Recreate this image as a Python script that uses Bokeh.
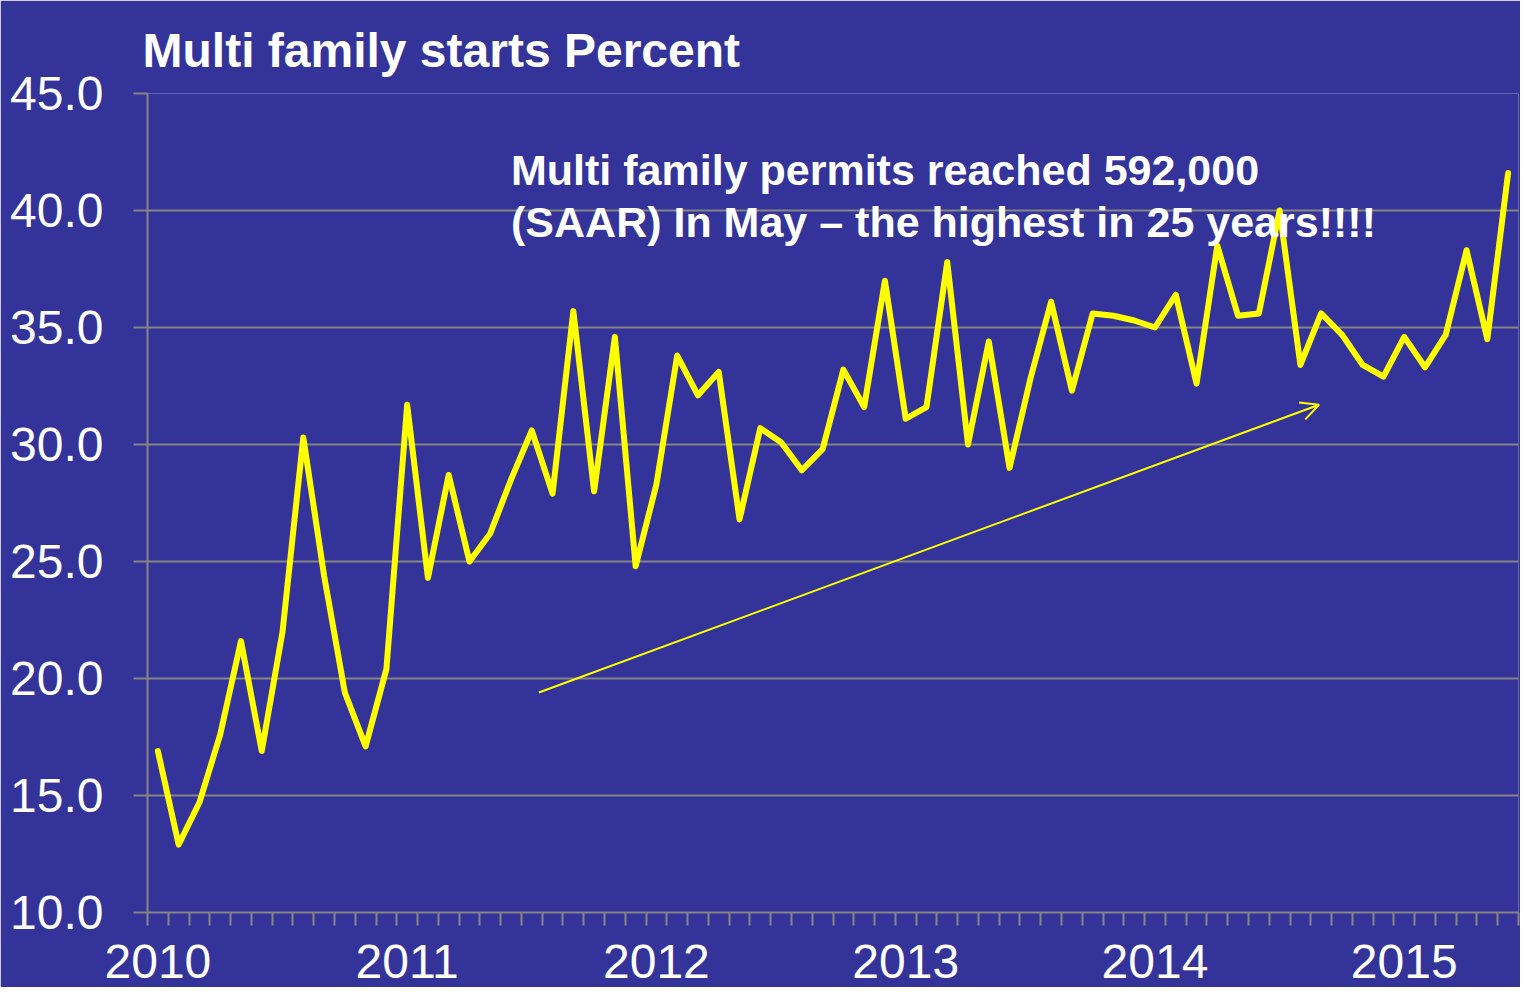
from bokeh.plotting import figure
from bokeh.models import (Range1d, FixedTicker, NumeralTickFormatter, Label,
                          Arrow, OpenHead, ColumnDataSource)
from bokeh.embed import file_html
from bokeh.resources import INLINE

# ---- data ----
years = ["2010", "2011", "2012", "2013", "2014", "2015"]
multi_family_pct = [
    16.9, 12.9, 14.7, 17.6, 21.6, 16.9, 22.0, 30.3, 24.4, 19.4, 17.1, 20.4,   # 2010
    31.7, 24.3, 28.7, 25.0, 26.2, 28.5, 30.6, 27.9, 35.7, 28.0, 34.6, 24.8,   # 2011
    28.3, 33.8, 32.1, 33.1, 26.8, 30.7, 30.1, 28.9, 29.8, 33.2, 31.6, 37.0,   # 2012
    31.1, 31.6, 37.8, 30.0, 34.4, 29.0, 32.8, 36.1, 32.3, 35.6, 35.5, 35.3,   # 2013
    35.0, 36.4, 32.6, 38.5, 35.5, 35.6, 40.0, 33.4, 35.6, 34.7, 33.4, 32.9,   # 2014
    34.6, 33.3, 34.7, 38.3, 34.5, 41.6,                                       # 2015
]
y_ticks = [10.0, 15.0, 20.0, 25.0, 30.0, 35.0, 40.0, 45.0]
title_text = "Multi family starts Percent"
note_lines = ["Multi family permits reached 592,000",
              "(SAAR) In May \u2013 the highest in 25 years!!!!"]

months = list(range(len(multi_family_pct)))
src = ColumnDataSource(dict(x=months, y=multi_family_pct))

BG = "#333399"
GRID = "#868686"
FONT = "Liberation Sans"

p = figure(width=1520, height=987, output_backend="svg", toolbar_location=None,
           x_range=Range1d(-0.5, len(months) - 0.5), y_range=Range1d(10, 45),
           min_border_left=147, min_border_right=2, min_border_top=93,
           min_border_bottom=75)
p.background_fill_color = BG
p.border_fill_color = BG
p.outline_line_color = None

# title
p.title.text = title_text
p.title.text_font = FONT
p.title.text_font_size = "48px"
p.title.text_font_style = "bold"
p.title.text_color = "white"
p.title.align = "left"
p.title.vertical_align = "top"
p.title.offset = -5
p.title.standoff = 30

# y axis
p.yaxis.ticker = FixedTicker(ticks=y_ticks, minor_ticks=[])
p.yaxis.formatter = NumeralTickFormatter(format="0.0")
p.yaxis.axis_line_color = GRID
p.yaxis.axis_line_width = 2
p.yaxis.major_tick_line_color = GRID
p.yaxis.major_tick_line_width = 2
p.yaxis.major_tick_out = 14
p.yaxis.major_tick_in = 0
p.yaxis.minor_tick_line_color = None
p.yaxis.major_label_standoff = 30
p.yaxis.major_label_text_font = FONT
p.yaxis.major_label_text_font_size = "48px"
p.yaxis.major_label_text_color = "white"

# x axis
year_pos = [12 * i for i in range(len(years))]
p.xaxis.ticker = FixedTicker(ticks=year_pos,
                             minor_ticks=[m - 0.5 for m in range(len(months) + 1)])
p.xaxis.major_label_overrides = {pos: lab for pos, lab in zip(year_pos, years)}
p.xaxis.axis_line_color = GRID
p.xaxis.axis_line_width = 2
p.xaxis.major_tick_out = 0
p.xaxis.major_tick_in = 0
p.xaxis.major_tick_line_color = None
p.xaxis.minor_tick_line_color = GRID
p.xaxis.minor_tick_line_width = 2
p.xaxis.minor_tick_out = 13
p.xaxis.minor_tick_in = 0
p.xaxis.major_label_standoff = 19
p.xaxis.major_label_text_font = FONT
p.xaxis.major_label_text_font_size = "48px"
p.xaxis.major_label_text_color = "white"

p.xgrid.grid_line_color = None
p.ygrid.grid_line_color = GRID
p.ygrid.grid_line_width = 2

p.line("x", "y", source=src, line_color="#FFFF00", line_width=6,
       line_join="round", line_cap="round")

# trend arrow
p.add_layout(Arrow(x_start=18.34, y_start=19.4, x_end=55.9, y_end=31.7,
                   line_color="#FFFF00", line_width=2,
                   end=OpenHead(size=18, line_color="#FFFF00", line_width=2)))

# annotation text
p.add_layout(Label(x=17.0, y=41.72, text=note_lines[0], text_font=FONT,
                   text_font_size="43px", text_font_style="bold",
                   text_color="white", text_baseline="alphabetic"))
p.add_layout(Label(x=17.0, y=39.50, text=note_lines[1], text_font=FONT,
                   text_font_size="43px", text_font_style="bold",
                   text_color="white", text_baseline="alphabetic"))

open("out.html", "w").write(file_html(p, INLINE))
